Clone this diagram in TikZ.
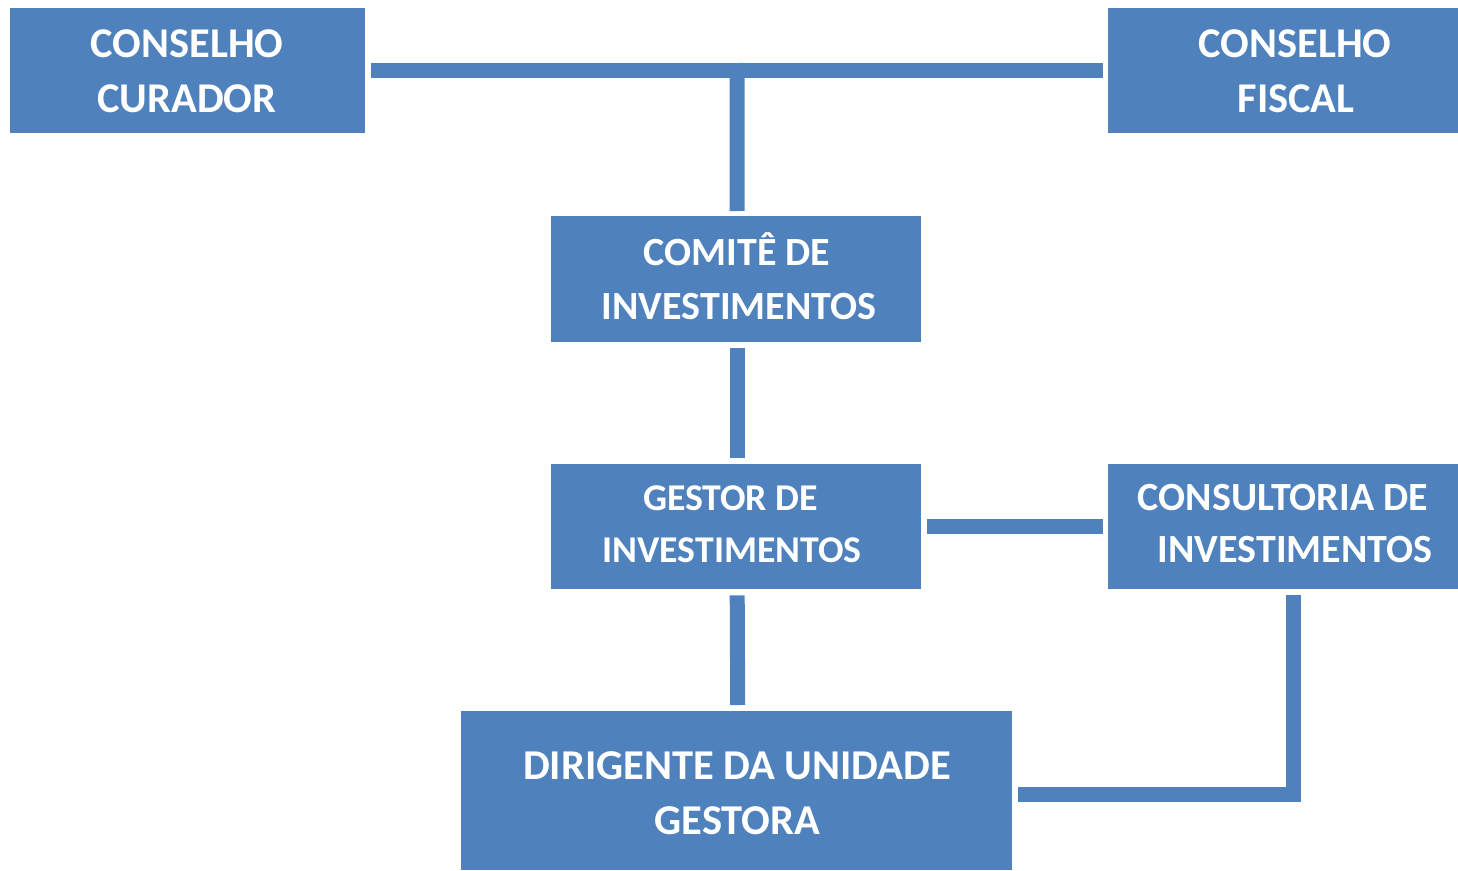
\documentclass[tikz,border=0pt]{standalone}
\usepackage{fontspec}
\setmainfont{Carlito}
\definecolor{boxblue}{RGB}{79,129,189}
\tikzset{
  orgbox/.style={rectangle, fill=boxblue, draw=none, inner sep=0pt, anchor=north west},
  txt/.style={text=white, font=\fontsize{#1}{48}\selectfont\bfseries, inner sep=0pt, anchor=base},
  txt/.default=40,
  conn/.style={draw=boxblue, line width=15pt, line cap=butt, line join=miter}
}
\begin{document}
\begin{tikzpicture}[x=1pt,y=-1pt]
\useasboundingbox (0,0) rectangle (1458,870);
% boxes
\node[orgbox, minimum width=355pt, minimum height=125pt] (cc) at (10,8) {};
\node[orgbox, minimum width=350pt, minimum height=125pt] (cf) at (1108,8) {};
\node[orgbox, minimum width=370pt, minimum height=126pt] (com) at (551,216) {};
\node[orgbox, minimum width=370pt, minimum height=125pt] (ges) at (551,464) {};
\node[orgbox, minimum width=350pt, minimum height=125pt] (cons) at (1108,464) {};
\node[orgbox, minimum width=551pt, minimum height=159pt] (dir) at (461,711) {};
% texts
\node[txt=42.4] (cc1) at (187,57) {CONSELHO};
\node[txt=42.4] (cc2) at (187,112) {CURADOR};
\node[txt=42.4] (cf1) at (1295,57) {CONSELHO};
\node[txt=42.4] (cf2) at (1296,112) {FISCAL};
\node[txt=40] (com1) at (737,265) {COMITÊ DE};
\node[txt=40] (com2) at (739,319) {INVESTIMENTOS};
\node[txt=37.8] (ges1) at (730.5,510) {GESTOR DE};
\node[txt=37.8] (ges2) at (732,562) {INVESTIMENTOS};
\node[txt=40] (cons1) at (1283,510) {CONSULTORIA DE};
\node[txt=40] (cons2) at (1295,562) {INVESTIMENTOS};
\node[txt=42.5] (dir1) at (737,779) {DIRIGENTE DA UNIDADE};
\node[txt=42.5] (dir2) at (737.5,834) {GESTORA};
% connectors
\coordinate (j) at (737,70.5);
\coordinate (k) at (1018,794);
\draw[conn] ([xshift=6pt]cc.east) -- ([xshift=-5pt]cf.west);
\draw[conn] ([yshift=7.5pt]j) -- ([xshift=1pt,yshift=5pt]com.north);
\draw[conn] ([xshift=1pt,yshift=-6pt]com.south) -- ([xshift=1pt,yshift=6pt]ges.north);
\draw[conn] ([xshift=1pt,yshift=-6pt]ges.south) -- ([xshift=1pt,yshift=6pt]dir.north);
\draw[conn] ([xshift=6pt]ges.east) -- ([xshift=-5pt]cons.west);
\draw[conn] ([xshift=10.5pt,yshift=-6pt]cons.south) |- (k);
\end{tikzpicture}
\end{document}
